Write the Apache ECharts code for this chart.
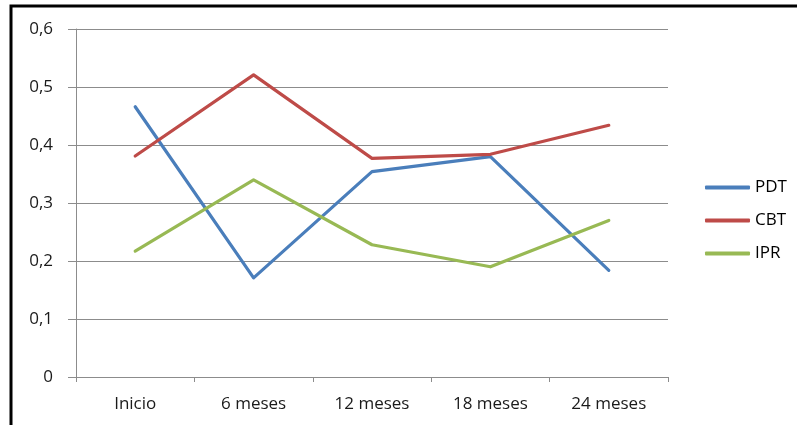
<!DOCTYPE html>
<html>
<head>
<meta charset="utf-8">
<script src="https://cdn.jsdelivr.net/npm/echarts@6/dist/echarts.min.js"></script>
<style>
html,body{margin:0;padding:0;background:#fff;}
#c{width:797px;height:425px;}
</style>
</head>
<body>
<div id="c"></div>
<script>
var categories = ['Inicio', '6 meses', '12 meses', '18 meses', '24 meses'];
var pdt = [0.466, 0.171, 0.354, 0.380, 0.184];
var cbt = [0.381, 0.521, 0.377, 0.384, 0.434];
var ipr = [0.217, 0.340, 0.228, 0.190, 0.270];
var seriesNames = ['PDT', 'CBT', 'IPR'];
var colors = ['#4A7EBB', '#BE4B48', '#98B954'];

var chart = echarts.init(document.getElementById('c'), null, {renderer: 'canvas'});
var fontFamily = '"Open Sans", "Noto Sans", sans-serif';
var gridColor = '#8c8c8c';
var textColor = '#1a1a1a';
function mk(name, data, color) {
  return {
    name: name, type: 'line', data: data, symbol: 'none', smooth: false,
    color: color,
    lineStyle: {width: 3.2, color: color, cap: 'round', join: 'round'},
    emphasis: {disabled: true}, animation: false
  };
}
chart.setOption({
  animation: false,
  backgroundColor: '#fff',
  grid: {left: 76, top: 29, right: 129, bottom: 48, containLabel: false},
  graphic: [{
    type: 'rect', silent: true,
    shape: {x: 11, y: 6, width: 1000, height: 1000},
    style: {fill: 'none', stroke: '#000', lineWidth: 3}
  }],
  legend: {
    orient: 'vertical', left: 700, top: 174,
    icon: 'roundRect', itemWidth: 45, itemHeight: 4, itemGap: 16,
    data: seriesNames,
    textStyle: {fontFamily: fontFamily, fontSize: 17, color: '#000', lineHeight: 17}
  },
  xAxis: {
    type: 'category', data: categories, boundaryGap: true,
    axisLine: {show: true, lineStyle: {color: gridColor, width: 1}},
    axisTick: {show: true, length: 5, alignWithLabel: false, lineStyle: {color: gridColor}},
    axisLabel: {margin: 19, fontFamily: fontFamily, fontSize: 17, color: textColor},
    splitLine: {show: false}
  },
  yAxis: {
    type: 'value', min: 0, max: 0.6, interval: 0.1,
    axisLine: {show: true, lineStyle: {color: gridColor, width: 1}},
    axisTick: {show: true, length: 8, lineStyle: {color: gridColor}},
    axisLabel: {margin: 23, fontFamily: fontFamily, fontSize: 17, color: textColor,
      formatter: function (v) { return (Math.round(v * 10) / 10).toString().replace('.', ','); }},
    splitLine: {show: true, lineStyle: {color: gridColor, width: 1}}
  },
  series: [mk(seriesNames[0], pdt, colors[0]), mk(seriesNames[1], cbt, colors[1]), mk(seriesNames[2], ipr, colors[2])]
});
</script>
</body>
</html>
